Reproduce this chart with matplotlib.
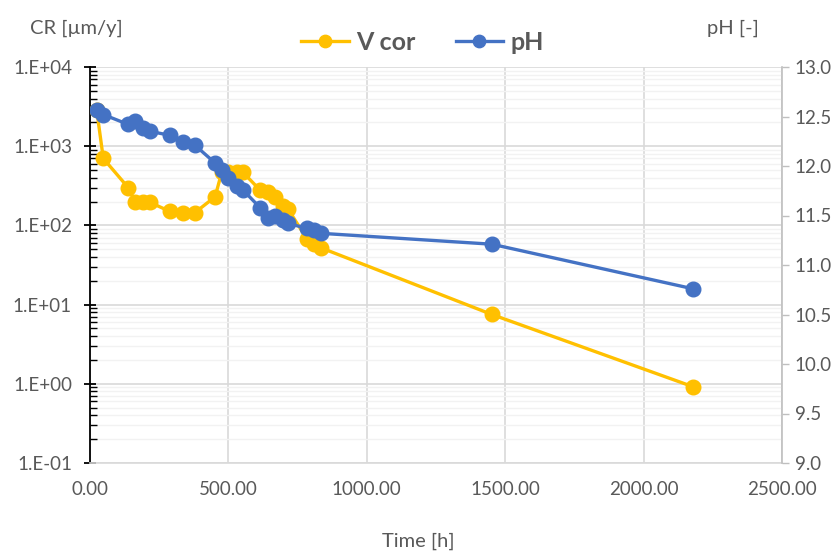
import numpy as np
import matplotlib
matplotlib.use("Agg")
import matplotlib.pyplot as plt
from matplotlib.ticker import FixedLocator, FuncFormatter, LogLocator, NullFormatter

# Corrosion rate and pH over exposure time
time_h = [24, 48, 138, 163, 193, 217, 289, 335, 379, 452, 476, 500, 532, 552,
          614, 644, 668, 698, 716, 783, 810, 835, 1452, 2178]
v_cor = [2900, 700, 300, 200, 195, 195, 150, 145, 145, 230, 470, 470, 470, 470,
         280, 265, 230, 175, 160, 68, 58, 52, 7.5, 0.92]
ph = [12.57, 12.52, 12.42, 12.45, 12.38, 12.35, 12.31, 12.24, 12.21, 12.03, 11.96,
      11.88, 11.80, 11.76, 11.58, 11.47, 11.50, 11.45, 11.42, 11.37, 11.35, 11.32,
      11.21, 10.76]

x_ticks = [0, 500, 1000, 1500, 2000, 2500]
cr_ticks = [1e-1, 1e0, 1e1, 1e2, 1e3, 1e4]
ph_ticks = [9.0, 9.5, 10.0, 10.5, 11.0, 11.5, 12.0, 12.5, 13.0]

plt.rcParams['font.family'] = ['Lato', 'DejaVu Sans']
grey = '#595959'
yellow = '#FFC000'
blue = '#4472C4'

fig = plt.figure(figsize=(8.4, 5.53), dpi=100)
ax = fig.add_axes([90 / 840, 1 - 463 / 553, 692 / 840, 396 / 553])
ax2 = ax.twinx()

# left axis: log corrosion rate
ax.set_yscale('log')
ax.set_ylim(1e-1, 1e4)
ax.set_xlim(0, 2500)
ax.plot(time_h, v_cor, color=yellow, lw=2.4, marker='o', ms=10.5, label='V cor', zorder=3)

ax.xaxis.set_major_locator(FixedLocator(x_ticks))
ax.xaxis.set_major_formatter(FuncFormatter(lambda v, p: f'{v:.2f}'))
ax.yaxis.set_major_locator(FixedLocator(cr_ticks))
ax.yaxis.set_major_formatter(FuncFormatter(lambda v, p: f'{v:.0E}'.replace('E', '.E')))
ax.yaxis.set_minor_locator(LogLocator(base=10, subs=np.arange(2, 10), numticks=20))
ax.yaxis.set_minor_formatter(NullFormatter())

ax.grid(True, which='major', color='#D9D9D9', lw=1.2)
ax.grid(True, which='minor', axis='y', color='#F2F2F2', lw=1.0)
ax.set_axisbelow(True)

ax.tick_params(axis='x', length=0, pad=13, labelsize=13.5, labelcolor=grey)
ax.tick_params(axis='y', which='major', direction='inout', length=8, width=1.3,
               color='black', pad=9, labelsize=13.5, labelcolor=grey)
ax.tick_params(axis='y', which='minor', direction='in', length=5, width=1.0, color='black')

for side in ['top', 'right']:
    ax.spines[side].set_visible(False)
ax.spines['left'].set_color('black')
ax.spines['left'].set_linewidth(1.3)
ax.spines['bottom'].set_color('#D9D9D9')
ax.spines['bottom'].set_linewidth(1.2)

# right axis: pH
ax2.set_ylim(9.0, 13.0)
ax2.plot(time_h, ph, color=blue, lw=2.4, marker='o', ms=10.5, label='pH', zorder=4)
ax2.yaxis.set_major_locator(FixedLocator(ph_ticks))
ax2.yaxis.set_major_formatter(FuncFormatter(lambda v, p: f'{v:.1f}'))
ax2.tick_params(axis='y', direction='out', length=5, width=1.0, color='#BFBFBF',
                pad=4, labelsize=13.5, labelcolor=grey)
for side in ['top', 'left', 'bottom']:
    ax2.spines[side].set_visible(False)
ax2.spines['right'].set_color('#BFBFBF')
ax2.spines['right'].set_linewidth(1.2)

# axis titles
fig.text(76 / 840, 1 - 28 / 553, 'CR [µm/y]', ha='center', va='center', fontsize=14.5, color=grey)
fig.text(733 / 840, 1 - 28 / 553, 'pH [-]', ha='center', va='center', fontsize=14.5, color=grey)
fig.text(418 / 840, 1 - 541 / 553, 'Time [h]', ha='center', va='center', fontsize=14.5, color=grey)

h1, l1 = ax.get_legend_handles_labels()
h2, l2 = ax2.get_legend_handles_labels()
leg = fig.legend(h1 + h2, l1 + l2, loc='center', bbox_to_anchor=(0.503, 1 - 42 / 553),
                 ncol=2, frameon=False, handlelength=1.9, columnspacing=1.6,
                 handletextpad=0.3, markerscale=0.85,
                 prop={'weight': 'bold', 'size': 18})
for t in leg.get_texts():
    t.set_color(grey)

fig.savefig('out.png', dpi=100)
